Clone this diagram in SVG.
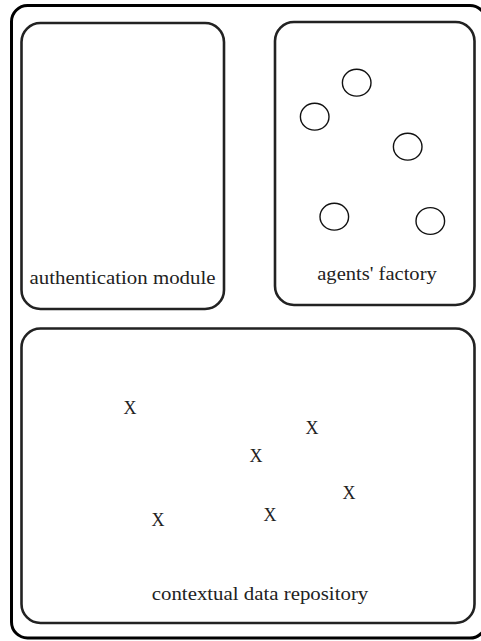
<svg xmlns="http://www.w3.org/2000/svg" width="481" height="641" viewBox="0 0 481 641">
<style>
.outer{fill:none;stroke:#000;stroke-width:3}
.box{fill:#fff;stroke:#222;stroke-width:2.6}
.agent{fill:none;stroke:#111;stroke-width:1.4}
.lbl{font-family:"Liberation Serif","Times New Roman",serif;font-size:18px;fill:#222;text-anchor:middle}
.x{font-family:"Liberation Serif","Times New Roman",serif;font-size:18px;fill:#222;text-anchor:middle}
</style>
<rect width="481" height="641" fill="#fff"/>
<rect id="frame" class="outer" x="11.5" y="5.5" width="474.5" height="632.5" rx="16"/>
<g id="authentication-module">
<rect class="box" x="21.5" y="23" width="202.5" height="286" rx="19"/>
<text class="lbl" x="122.5" y="284" textLength="186" lengthAdjust="spacingAndGlyphs">authentication module</text>
</g>
<g id="agents-factory">
<rect class="box" x="275" y="22" width="199.5" height="283" rx="19"/>
<ellipse class="agent" cx="356.7" cy="82.7" rx="14.3" ry="13.4"/>
<ellipse class="agent" cx="314.7" cy="116.7" rx="14.3" ry="13.4"/>
<ellipse class="agent" cx="407.7" cy="146.7" rx="14.3" ry="13.4"/>
<ellipse class="agent" cx="334.3" cy="216.7" rx="14.3" ry="13.4"/>
<ellipse class="agent" cx="430.3" cy="221" rx="14.3" ry="13.4"/>
<text class="lbl" x="377" y="280" textLength="119.5" lengthAdjust="spacingAndGlyphs">agents' factory</text>
</g>
<g id="contextual-data-repository">
<rect class="box" x="21.5" y="328.5" width="453" height="294.5" rx="19"/>
<text class="x" x="130" y="414">X</text>
<text class="x" x="312" y="434">X</text>
<text class="x" x="256" y="462">X</text>
<text class="x" x="349" y="499">X</text>
<text class="x" x="158" y="526">X</text>
<text class="x" x="270" y="521">X</text>
<text class="lbl" x="260" y="600" textLength="216.5" lengthAdjust="spacingAndGlyphs">contextual data repository</text>
</g>
<g id="connectors"/>
</svg>
